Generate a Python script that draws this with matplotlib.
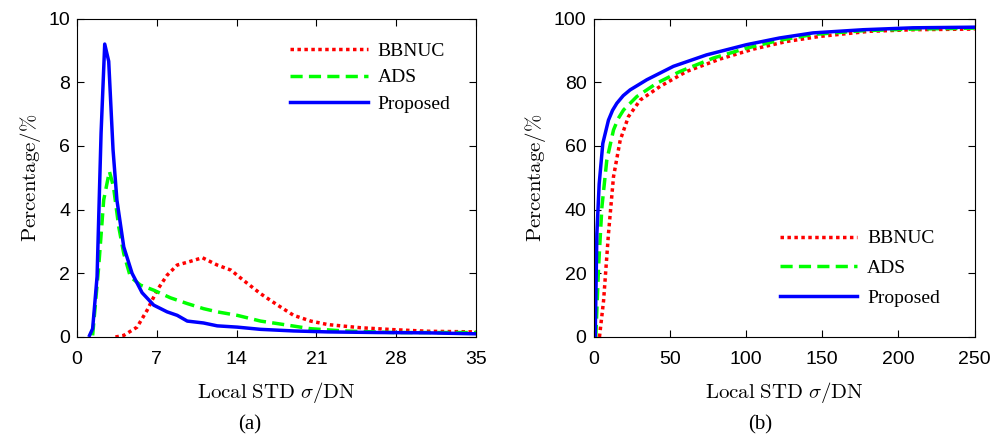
import matplotlib
matplotlib.use('Agg')
import matplotlib.pyplot as plt

plt.rcParams['mathtext.fontset'] = 'cm'

# (a) histogram of local std
blue_x = [1.1, 1.37, 1.76, 2.11, 2.43, 2.78, 3.16, 3.5, 4.1, 4.83, 5.71, 6.73, 7.9, 8.79,
          9.67, 11.1, 12.3, 14.06, 16.1, 19.0, 22.0, 26.4, 30.8, 35.0]
blue_y = [0.05, 0.26, 1.9, 6.4, 9.2, 8.66, 5.88, 4.3, 2.83, 2.0, 1.39, 1.0, 0.79, 0.68,
          0.5, 0.44, 0.35, 0.31, 0.24, 0.19, 0.16, 0.14, 0.13, 0.1]
green_x = [1.37, 1.9, 2.34, 2.84, 3.2, 3.66, 4.1, 4.68, 5.56, 6.73, 8.2, 9.67, 11.1, 12.3,
           14.06, 16.1, 17.6, 20.5, 23.4, 27.8, 35.0]
green_y = [0.05, 2.2, 4.3, 5.2, 4.72, 3.46, 2.62, 1.89, 1.63, 1.47, 1.23, 1.05, 0.89, 0.79,
           0.68, 0.5, 0.42, 0.26, 0.19, 0.14, 0.14]
red_x = [3.37, 4.1, 5.27, 6.15, 7.03, 7.9, 8.79, 9.8, 11.0, 12.3, 13.5, 14.6, 16.1, 17.6,
         19.0, 20.5, 22.0, 24.9, 27.8, 30.8, 35.0]
red_y = [0.0, 0.05, 0.31, 0.84, 1.47, 1.94, 2.26, 2.36, 2.49, 2.26, 2.1, 1.78, 1.36, 1.0,
         0.68, 0.5, 0.39, 0.29, 0.23, 0.18, 0.16]

# (b) cumulative percentage
cblue_x = [1.1, 2.2, 3.7, 6.1, 9.8, 12.5, 15.3, 19.5, 24, 35, 52.4, 74.2, 100.4, 122, 144, 177, 209.6, 250]
cblue_y = [0, 32.4, 48, 60.8, 68.1, 71.2, 73.4, 75.8, 77.6, 80.8, 85, 88.6, 91.8, 93.9, 95.5, 96.5, 97.1, 97.3]
cgreen_x = [1.5, 3.3, 5.5, 8.7, 13.1, 16.2, 19.7, 28.4, 41.5, 56.8, 78.6, 100.4, 122, 144, 177, 209.6, 250]
cgreen_y = [0, 21.9, 40.8, 55.5, 65, 68.6, 71.3, 75.5, 79.7, 83.4, 87.6, 90.7, 93.2, 95, 96.2, 96.7, 97]
cred_x = [3.9, 6.6, 9.8, 13.1, 17.5, 22.9, 30.6, 43.7, 61.1, 83, 104.8, 126.6, 148.5, 181, 209.6, 250]
cred_y = [0, 11.4, 32.4, 50.3, 61.8, 69.2, 74.4, 78.7, 83.4, 87.3, 90.4, 92.8, 94.4, 96, 96.5, 96.7]

labels = ['BBNUC', 'ADS', 'Proposed']
serif = 'Liberation Serif'
tickfont = 'Liberation Sans'
xlabel = r'$\mathrm{Local\ STD}\ \sigma/\mathrm{DN}$'
ylabel = r'$\mathrm{Percentage/\%}$'

fig = plt.figure(figsize=(9.95, 4.38), dpi=100)
ax1 = fig.add_axes([0.0774, 0.2306, 0.401, 0.727])
ax2 = fig.add_axes([0.5965, 0.2306, 0.383, 0.727])


def draw(ax, rx, ry, gx, gy, bx, by):
    ax.plot(rx, ry, color='#ff0000', linestyle=(0, (1, 1)), linewidth=2.5, label=labels[0])
    ax.plot(gx, gy, color='#00ff00', linestyle=(0, (3.5, 1.8)), linewidth=2.5, label=labels[1])
    ax.plot(bx, by, color='#0000ff', linestyle='-', linewidth=2.5, label=labels[2])
    ax.tick_params(direction='in', top=True, right=True, length=5, labelsize=14, pad=5)
    ax.tick_params(axis='x', pad=10)
    ax.set_xlabel(xlabel, fontsize=15, labelpad=9)
    ax.set_ylabel(ylabel, fontsize=15, labelpad=4)


def fix_ticks(ax):
    for t in ax.get_xticklabels() + ax.get_yticklabels():
        t.set_fontfamily(tickfont)


draw(ax1, red_x, red_y, green_x, green_y, blue_x, blue_y)
ax1.set_xlim(0, 35)
ax1.set_ylim(0, 10)
ax1.set_xticks([0, 7, 14, 21, 28, 35])
ax1.set_yticks([0, 2, 4, 6, 8, 10])
fix_ticks(ax1)
ax1.legend(loc='upper right', frameon=False, prop={'family': serif, 'size': 14},
           handlelength=4.0, handletextpad=0.5, labelspacing=0.45,
           bbox_to_anchor=(0.98, 0.98))

draw(ax2, cred_x, cred_y, cgreen_x, cgreen_y, cblue_x, cblue_y)
ax2.set_xlim(0, 250)
ax2.set_ylim(0, 100)
ax2.set_xticks([0, 50, 100, 150, 200, 250])
ax2.set_yticks([0, 20, 40, 60, 80, 100])
fix_ticks(ax2)
ax2.legend(loc='lower right', frameon=False, prop={'family': serif, 'size': 14},
           handlelength=4.0, handletextpad=0.5, labelspacing=0.62,
           bbox_to_anchor=(0.955, 0.04))

fig.text(0.251, 0.03, '(a)', ha='center', va='center', fontsize=15, family=serif)
fig.text(0.764, 0.03, '(b)', ha='center', va='center', fontsize=15, family=serif)

fig.savefig('out.png', dpi=100)
